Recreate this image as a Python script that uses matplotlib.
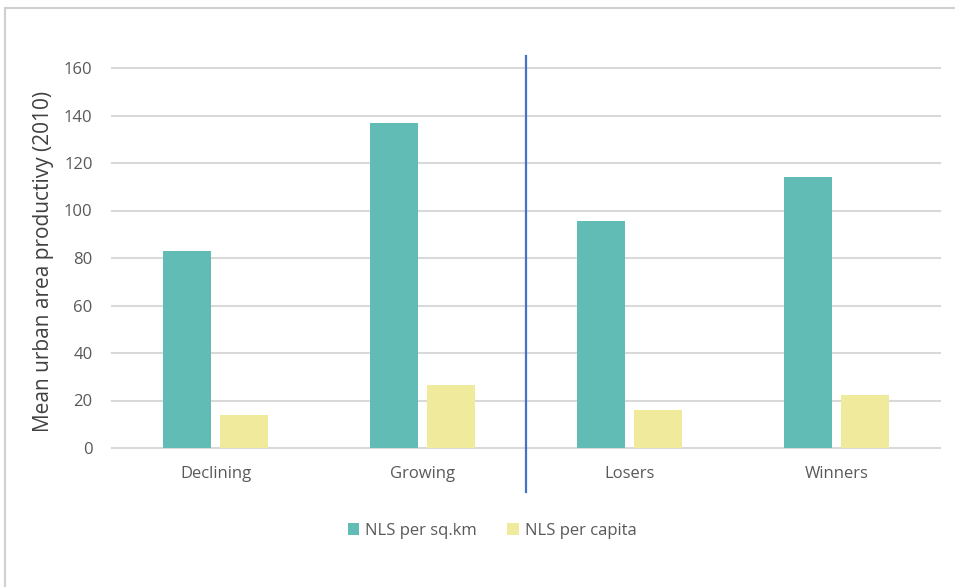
import matplotlib
matplotlib.use("Agg")
import matplotlib.pyplot as plt
from matplotlib.patches import Rectangle

plt.rcParams['font.family'] = ['Open Sans', 'DejaVu Sans']

# data
categories = ['Declining', 'Growing', 'Losers', 'Winners']
per_sqkm = [83, 137, 95.5, 114]
per_capita = [14, 26.5, 16, 22.3]
series_names = ['NLS per sq.km', 'NLS per capita']
yticks = [0, 20, 40, 60, 80, 100, 120, 140, 160]

teal = '#60BCB4'
yellow = '#F0EA9C'
grid = '#D9D9D9'
txt = '#595959'

W, H = 955, 587
fig = plt.figure(figsize=(W / 100, H / 100), dpi=100)
ax = fig.add_axes([112 / W, 1 - 448 / H, 828 / W, 380 / H])

# outer chart frame (clipped by the image edge)
fig.patches.append(Rectangle((5 / W, -0.1), 1.1, 1 - 8 / H + 0.1,
                             transform=fig.transFigure, fill=False,
                             edgecolor='#D0D0D0', linewidth=1.5))

x = list(range(len(categories)))
bw = 0.232
off = 0.14
ax.bar([i - off for i in x], per_sqkm, width=bw, color=teal, label=series_names[0], zorder=3)
ax.bar([i + off for i in x], per_capita, width=bw, color=yellow, label=series_names[1], zorder=3)

ax.set_xlim(-0.5, 3.5)
ax.set_ylim(0, 160)
ax.set_yticks(yticks)
ax.set_xticks(x)
ax.set_xticklabels(categories)
ax.tick_params(axis='both', length=0, labelsize=12, colors=txt)
ax.tick_params(axis='y', pad=14)
ax.tick_params(axis='x', pad=13)
for t in yticks:
    ax.axhline(t, color=grid, linewidth=1.5, zorder=1, clip_on=False)
for s in ax.spines.values():
    s.set_visible(False)

# divider between the two groups
ax.axvline(1.5, ymin=-44 / 380, ymax=392 / 380, color='#4472C4',
           linewidth=1.6, clip_on=False, zorder=4)

ax.set_ylabel('Mean urban area productivy (2010)', fontsize=15, color='#404040', labelpad=5)
ax.yaxis.set_label_coords(-0.07, 0.49)

leg = fig.legend(loc='center', bbox_to_anchor=(492 / W, 1 - 531 / H), ncol=2,
                 frameon=False, fontsize=12, handlelength=0.7, handleheight=0.7,
                 handletextpad=0.35, columnspacing=1.8)
for t in leg.get_texts():
    t.set_color(txt)

fig.savefig('out.png', dpi=100)
